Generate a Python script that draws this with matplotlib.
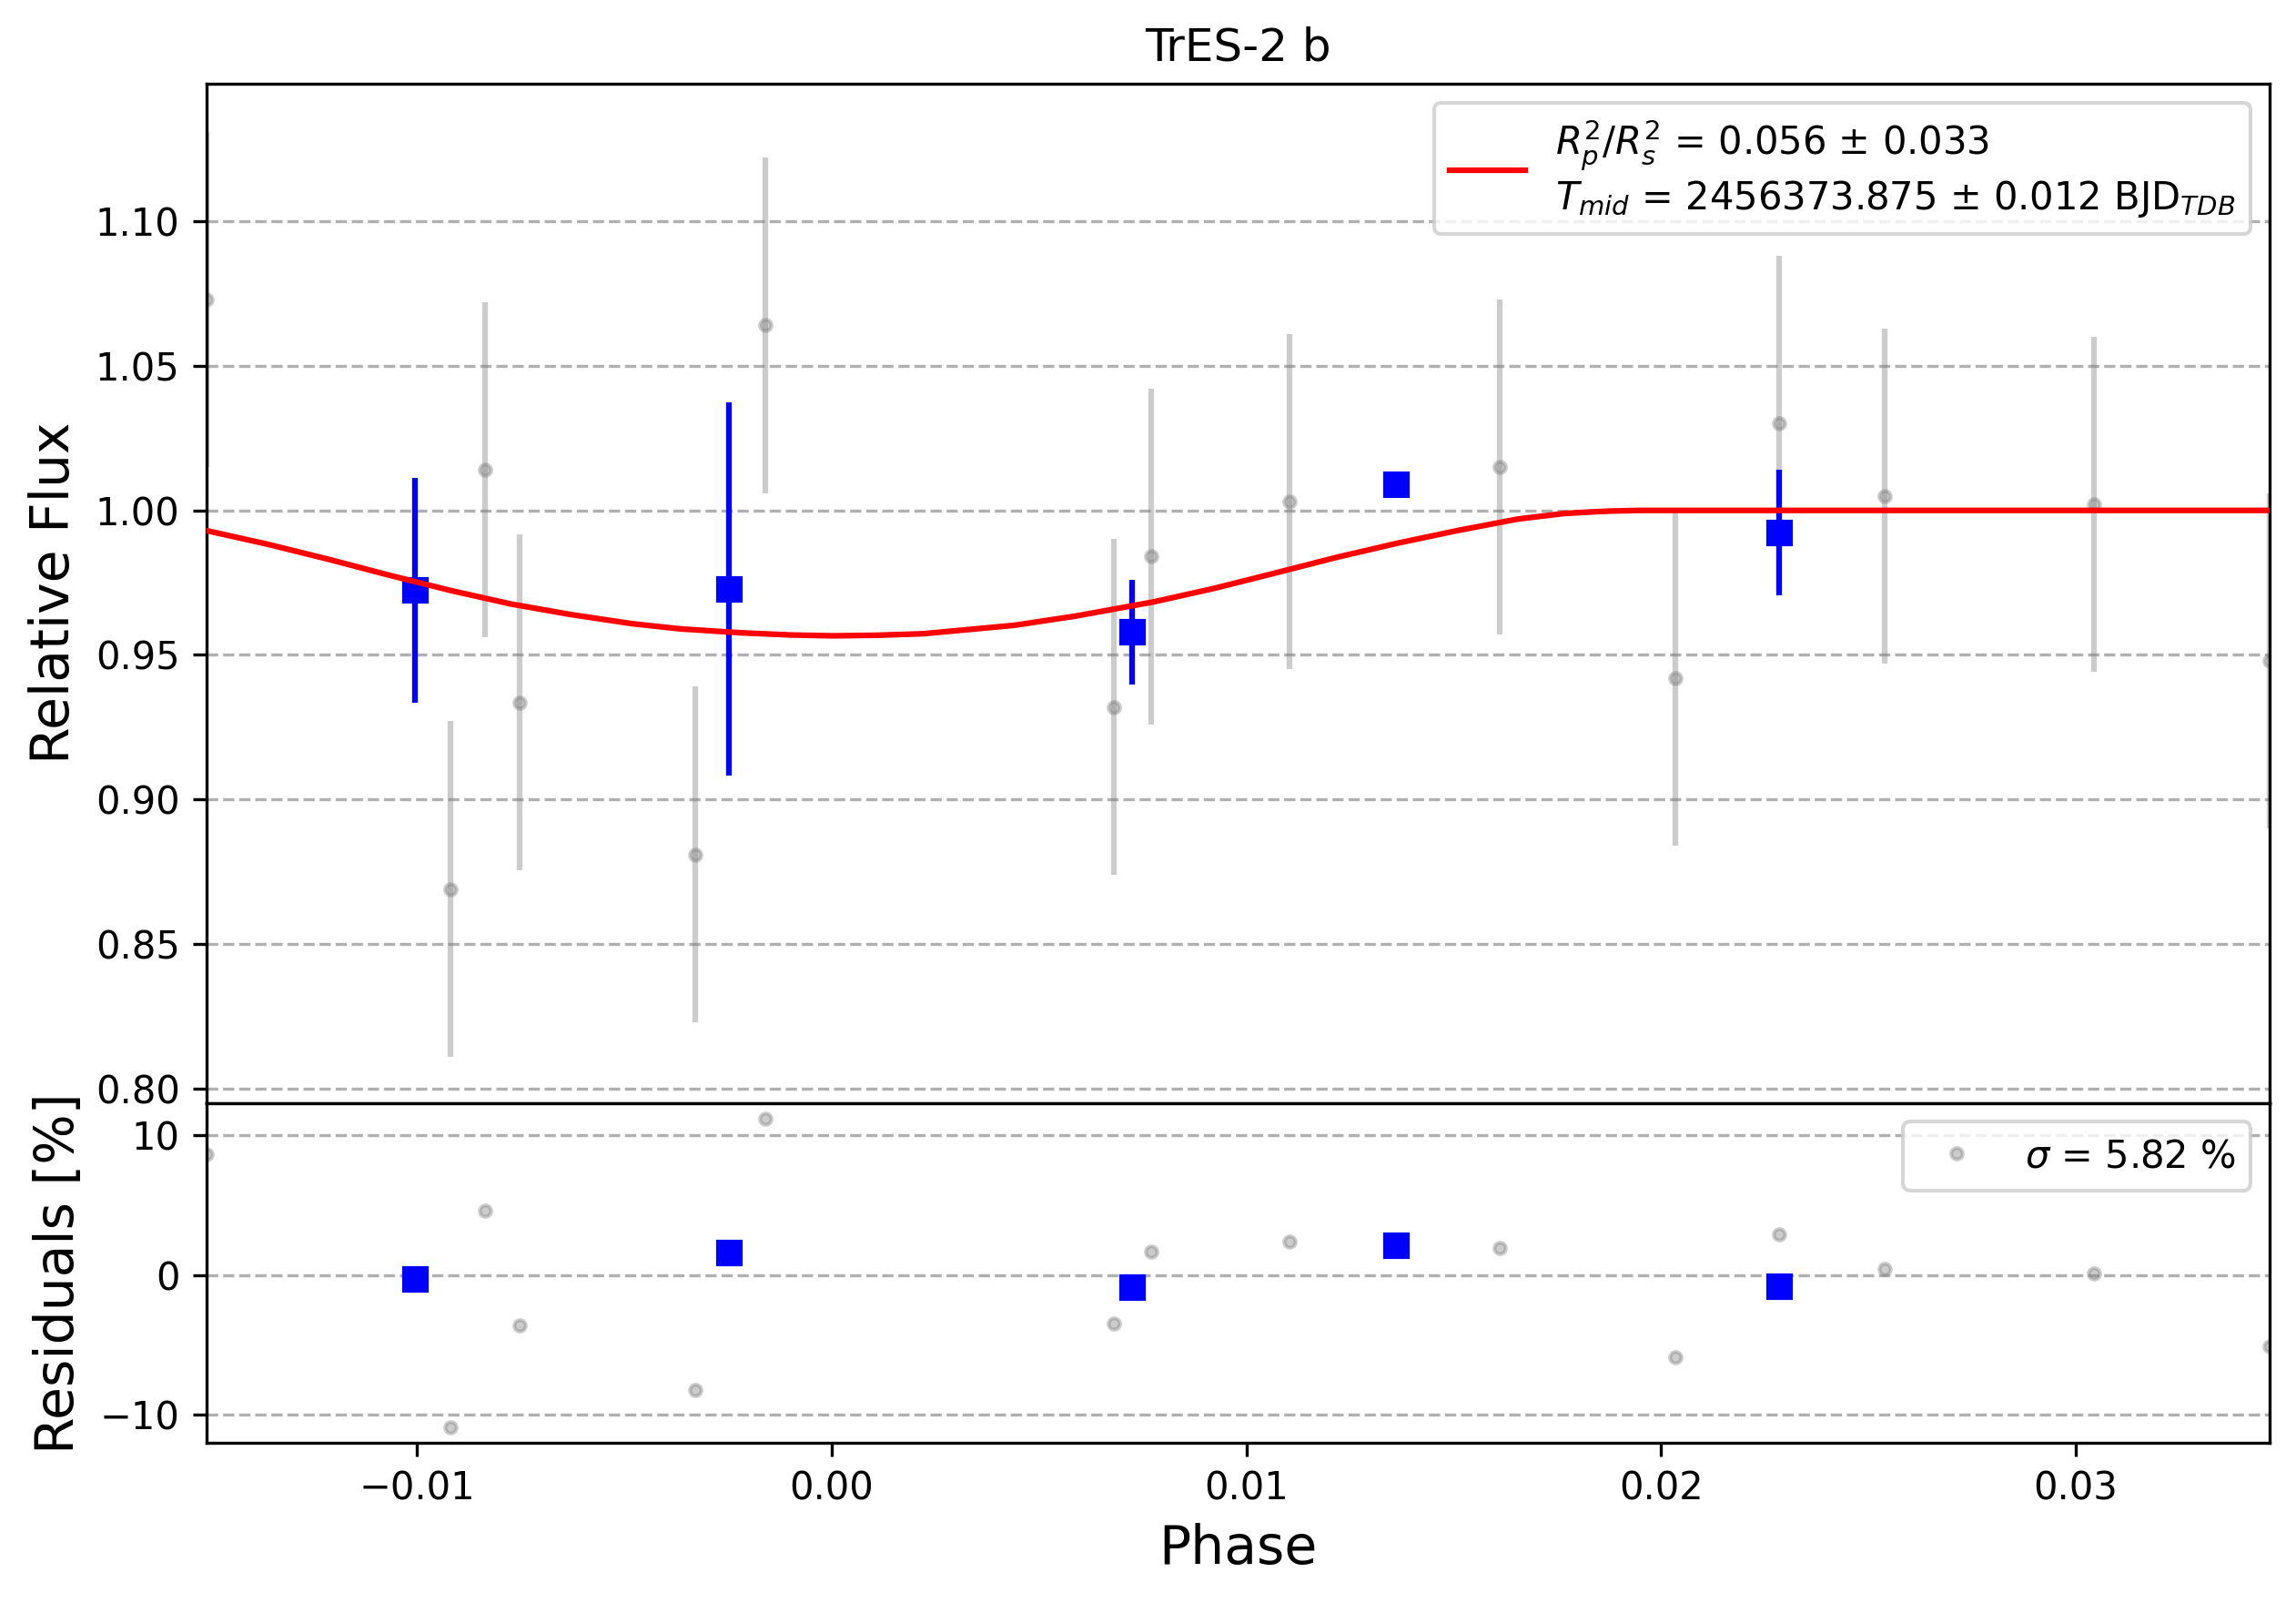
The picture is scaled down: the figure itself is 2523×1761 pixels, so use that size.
import matplotlib
matplotlib.use('Agg')
import matplotlib.pyplot as plt

# ---- unbinned data (phase, relative flux, error, residual in %) ----
phase = [-0.01508, -0.00919, -0.00837, -0.00753, -0.00329, -0.00159, 0.00681,
         0.00770, 0.01105, 0.01611, 0.02034, 0.02285, 0.02540, 0.03045, 0.03468]
flux = [1.073, 0.869, 1.014, 0.9336, 0.881, 1.064, 0.932,
        0.984, 1.003, 1.015, 0.942, 1.030, 1.005, 1.002, 0.948]
flux_err = [0.058, 0.058, 0.058, 0.058, 0.058, 0.058, 0.058,
            0.058, 0.058, 0.058, 0.058, 0.058, 0.058, 0.058, 0.058]
resid = [8.6, -10.9, 4.6, -3.6, -8.2, 11.2, -3.5,
         1.7, 2.4, 1.9, -5.9, 2.9, 0.4, 0.1, -5.1]

# ---- binned data ----
bin_phase = [-0.01005, -0.00247, 0.00724, 0.01360, 0.02285]
bin_flux = [0.9724, 0.9728, 0.9579, 1.0091, 0.9924]
bin_err = [0.0388, 0.0646, 0.0182, 0.0038, 0.0218]
bin_resid = [-0.3, 1.6, -0.9, 2.1, -0.8]

# ---- transit model ----
model_phase = [-0.01508, -0.01360, -0.01213, -0.01067, -0.00921, -0.00774, -0.00628,
               -0.00481, -0.00364, -0.00218, -0.00100, 0.00002, 0.00110, 0.00221,
               0.00441, 0.00587, 0.00777, 0.00924, 0.01070, 0.01216, 0.01363,
               0.01509, 0.01655, 0.01765, 0.01830, 0.01875, 0.01950, 0.03468]
model_flux = [0.99301, 0.98828, 0.98306, 0.97757, 0.97235, 0.96762, 0.96394,
              0.96079, 0.95899, 0.95764, 0.95690, 0.95660, 0.95680, 0.95732,
              0.96025, 0.96340, 0.96835, 0.97307, 0.97833, 0.98369, 0.98860,
              0.99301, 0.99701, 0.99890, 0.99945, 0.99975, 1.00000, 1.00000]

flux_ticks = [0.80, 0.85, 0.90, 0.95, 1.00, 1.05, 1.10]
resid_ticks = [-10, 0, 10]
phase_ticks = [-0.01, 0.00, 0.01, 0.02, 0.03]

model_label = (r'$R_p^2/R_s^2$ = 0.056 ± 0.033' + '\n' +
               r'$T_{mid}$ = 2456373.875 ± 0.012 BJD$_{TDB}$')
sigma_label = r'$\sigma$ = 5.82 %'

fig = plt.figure(figsize=(2523 / 300, 1761 / 300), dpi=300)
ax1 = fig.add_axes([0.0899, 0.3120, 0.8986, 0.6359])
ax2 = fig.add_axes([0.0899, 0.0999, 0.8986, 0.2121], sharex=ax1)

ax1.errorbar(phase, flux, yerr=flux_err, fmt='.', color='gray', alpha=0.4, zorder=2)
ax1.errorbar(bin_phase, bin_flux, yerr=bin_err, fmt='s', color='blue', zorder=3)
ax1.plot(model_phase, model_flux, color='red', lw=1.5, zorder=4, label=model_label)
ax1.legend(loc='upper right')
ax1.set_title('TrES-2 b', fontsize=12)
ax1.set_ylabel('Relative Flux', fontsize=14)
ax1.grid(axis='y', ls='--')
ax1.set_yticks(flux_ticks)
ax1.set_ylim(0.795, 1.1477)
ax1.tick_params(labelbottom=False)

ax2.plot(phase, resid, '.', color='gray', alpha=0.4, label=sigma_label, zorder=2)
ax2.plot(bin_phase, bin_resid, 's', color='blue', zorder=3)
ax2.legend(loc='upper right')
ax2.set_ylabel('Residuals [%]', fontsize=14)
ax2.set_xlabel('Phase', fontsize=14)
ax2.grid(axis='y', ls='--')
ax2.set_yticks(resid_ticks)
ax2.set_xticks(phase_ticks)
ax2.set_xlim(min(phase), max(phase))

fig.savefig('out.png', dpi=300)
